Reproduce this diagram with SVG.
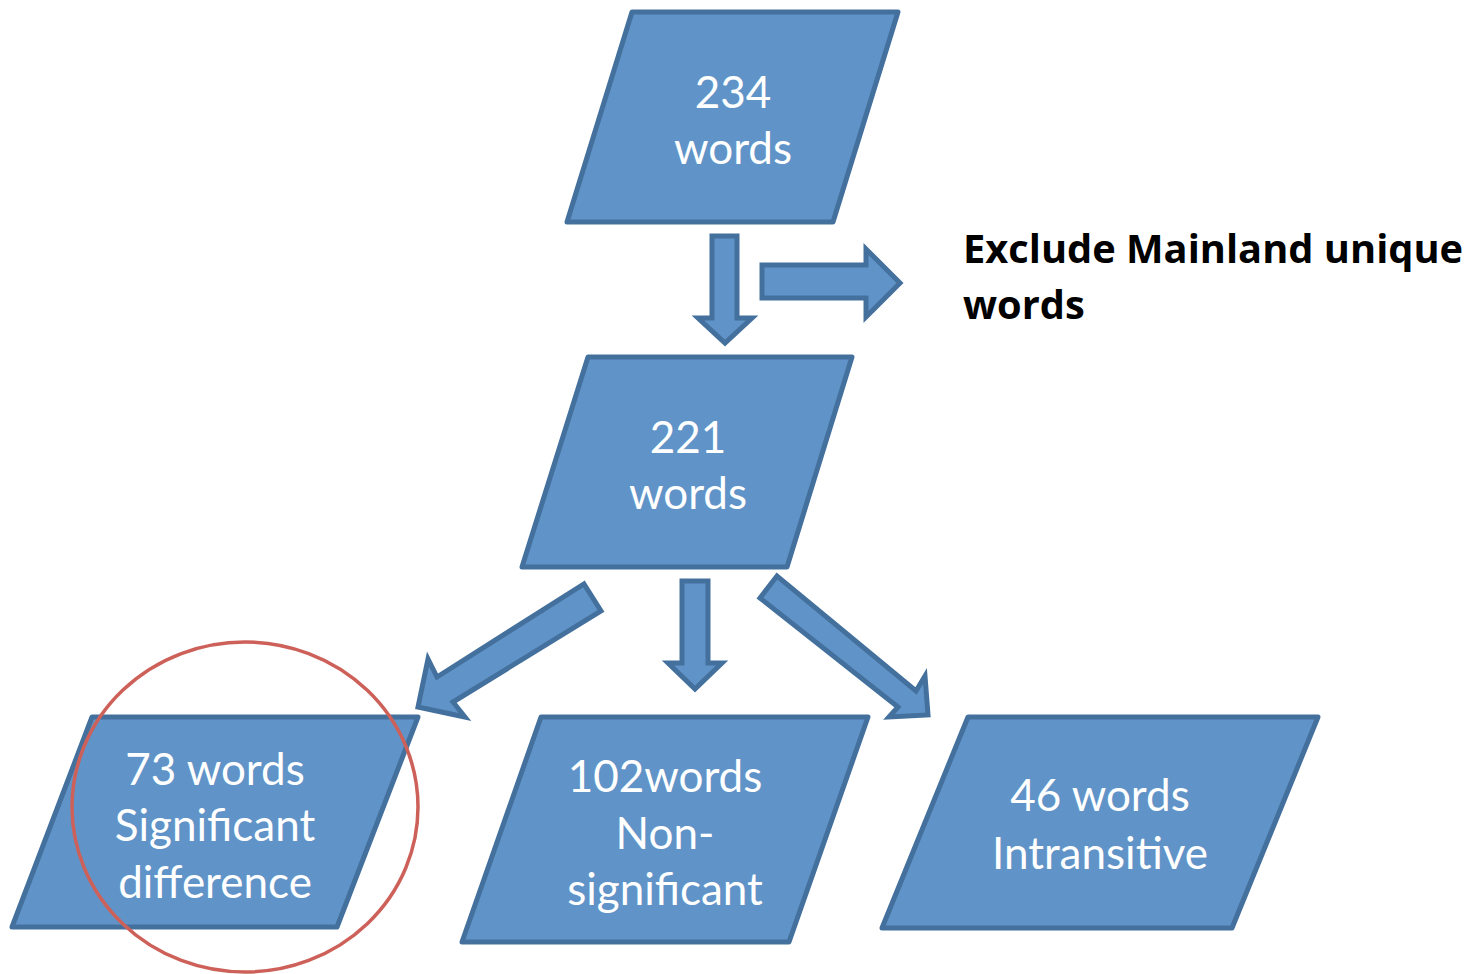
<svg xmlns="http://www.w3.org/2000/svg" width="1471" height="974" viewBox="0 0 1471 974">
<style>
.box{fill:#6094c8;stroke:#44709d;stroke-width:5;stroke-linejoin:round}
.arr{fill:#6094c8;stroke:#44709d;stroke-width:5;stroke-linejoin:miter}
.t{font-family:Lato,"Open Sans",sans-serif;font-size:44px;fill:#ffffff;text-anchor:middle}
.b{font-family:"Open Sans",Lato,sans-serif;font-size:39.8px;font-weight:bold;fill:#000000}
</style>
<rect width="1471" height="974" fill="#ffffff"/>
<g id="connectors">
<polygon class="arr" points="712,236 737,236 737,318 752,318 725,343 698,318 712,318"/>
<polygon class="arr" points="762,265 866,265 866,249 900,283 866,317 866,298 762,298"/>
<polygon class="arr" points="682,581 708,581 708,663 722,663 695,689 668,663 682,663"/>
<polygon class="arr" points="584,584 601,611 453,702 465,717 418,707 428,659 437,677"/>
<polygon class="arr" points="777,576 760,598 898,707 889,717 928,715 925,676 916,691"/>
</g>
<g id="n1"><polygon class="box" points="632,12 898,12 833,222 567,222"/>
<text class="t" x="733" y="108">234</text><text class="t" x="733" y="164">words</text></g>
<g id="n2"><polygon class="box" points="588,357 852,357 787,567 522,567"/>
<text class="t" x="688" y="453">221</text><text class="t" x="688" y="509">words</text></g>
<g id="n3"><polygon class="box" points="92,717 418,717 337,927 12,927"/>
<text class="t" x="215" y="785">73 words</text><text class="t" x="215" y="841">Significant</text><text class="t" x="215" y="898">difference</text></g>
<g id="n4"><polygon class="box" points="541,717 868,717 789,942 462,942"/>
<text class="t" x="665" y="792">102words</text><text class="t" x="665" y="849">Non-</text><text class="t" x="665" y="905">significant</text></g>
<g id="n5"><polygon class="box" points="968,717 1318,717 1232,928 882,928"/>
<text class="t" x="1100" y="811">46 words</text><text class="t" x="1100" y="869">Intransitive</text></g>
<g id="label"><text class="b" x="963" y="263">Exclude Mainland unique</text><text class="b" x="963" y="319">words</text></g>
<g id="circle"><ellipse cx="245" cy="807" rx="173" ry="165" fill="none" stroke="#cd6159" stroke-width="3.5"/></g>
</svg>
